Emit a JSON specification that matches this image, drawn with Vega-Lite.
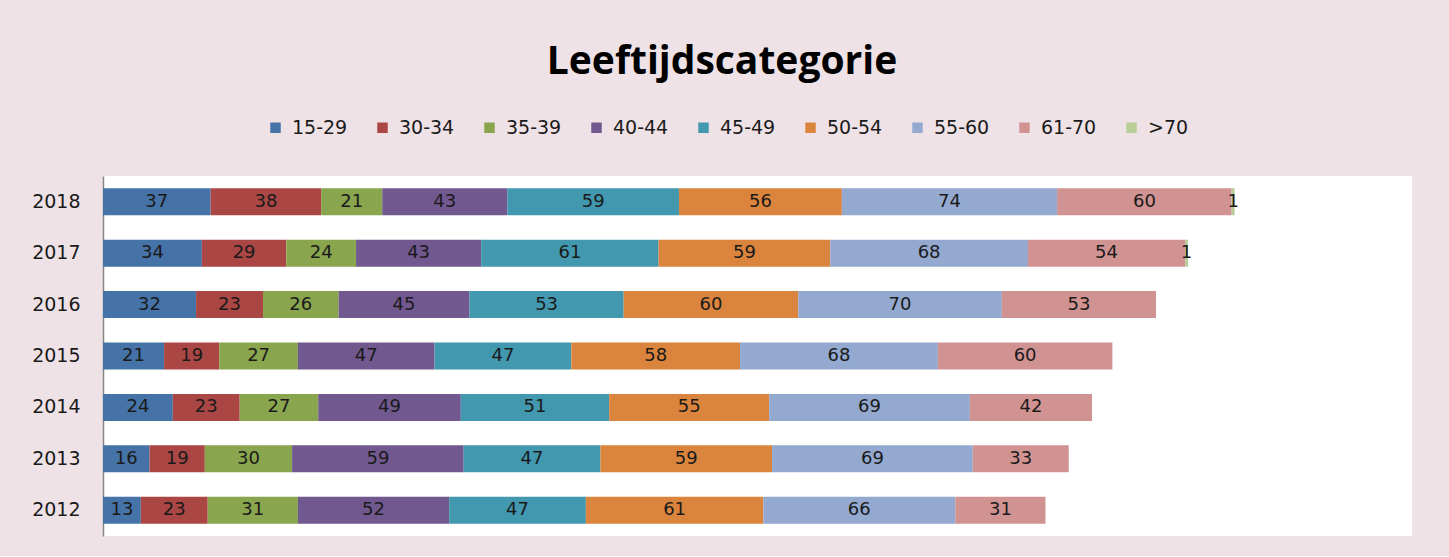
{
  "$schema": "https://vega.github.io/schema/vega-lite/v6.json",
  "width": 1309,
  "height": 360,
  "padding": {"left": 8, "top": 43, "right": 37, "bottom": 20},
  "background": "#EFE2E6",
  "title": {
    "text": "Leeftijdscategorie",
    "font": "Open Sans",
    "fontSize": 39,
    "fontWeight": "bold",
    "color": "#000000",
    "anchor": "middle",
    "frame": "bounds",
    "offset": 36,
    "dx": 12
  },
  "config": {
    "view": {"fill": "#FFFFFF", "stroke": null},
    "font": "DejaVu Sans"
  },
  "data": {
    "values": [
      {"year": "2018", "cat": "15-29", "idx": 1, "n": 37},
      {"year": "2018", "cat": "30-34", "idx": 2, "n": 38},
      {"year": "2018", "cat": "35-39", "idx": 3, "n": 21},
      {"year": "2018", "cat": "40-44", "idx": 4, "n": 43},
      {"year": "2018", "cat": "45-49", "idx": 5, "n": 59},
      {"year": "2018", "cat": "50-54", "idx": 6, "n": 56},
      {"year": "2018", "cat": "55-60", "idx": 7, "n": 74},
      {"year": "2018", "cat": "61-70", "idx": 8, "n": 60},
      {"year": "2018", "cat": ">70", "idx": 9, "n": 1},
      {"year": "2017", "cat": "15-29", "idx": 1, "n": 34},
      {"year": "2017", "cat": "30-34", "idx": 2, "n": 29},
      {"year": "2017", "cat": "35-39", "idx": 3, "n": 24},
      {"year": "2017", "cat": "40-44", "idx": 4, "n": 43},
      {"year": "2017", "cat": "45-49", "idx": 5, "n": 61},
      {"year": "2017", "cat": "50-54", "idx": 6, "n": 59},
      {"year": "2017", "cat": "55-60", "idx": 7, "n": 68},
      {"year": "2017", "cat": "61-70", "idx": 8, "n": 54},
      {"year": "2017", "cat": ">70", "idx": 9, "n": 1},
      {"year": "2016", "cat": "15-29", "idx": 1, "n": 32},
      {"year": "2016", "cat": "30-34", "idx": 2, "n": 23},
      {"year": "2016", "cat": "35-39", "idx": 3, "n": 26},
      {"year": "2016", "cat": "40-44", "idx": 4, "n": 45},
      {"year": "2016", "cat": "45-49", "idx": 5, "n": 53},
      {"year": "2016", "cat": "50-54", "idx": 6, "n": 60},
      {"year": "2016", "cat": "55-60", "idx": 7, "n": 70},
      {"year": "2016", "cat": "61-70", "idx": 8, "n": 53},
      {"year": "2015", "cat": "15-29", "idx": 1, "n": 21},
      {"year": "2015", "cat": "30-34", "idx": 2, "n": 19},
      {"year": "2015", "cat": "35-39", "idx": 3, "n": 27},
      {"year": "2015", "cat": "40-44", "idx": 4, "n": 47},
      {"year": "2015", "cat": "45-49", "idx": 5, "n": 47},
      {"year": "2015", "cat": "50-54", "idx": 6, "n": 58},
      {"year": "2015", "cat": "55-60", "idx": 7, "n": 68},
      {"year": "2015", "cat": "61-70", "idx": 8, "n": 60},
      {"year": "2014", "cat": "15-29", "idx": 1, "n": 24},
      {"year": "2014", "cat": "30-34", "idx": 2, "n": 23},
      {"year": "2014", "cat": "35-39", "idx": 3, "n": 27},
      {"year": "2014", "cat": "40-44", "idx": 4, "n": 49},
      {"year": "2014", "cat": "45-49", "idx": 5, "n": 51},
      {"year": "2014", "cat": "50-54", "idx": 6, "n": 55},
      {"year": "2014", "cat": "55-60", "idx": 7, "n": 69},
      {"year": "2014", "cat": "61-70", "idx": 8, "n": 42},
      {"year": "2013", "cat": "15-29", "idx": 1, "n": 16},
      {"year": "2013", "cat": "30-34", "idx": 2, "n": 19},
      {"year": "2013", "cat": "35-39", "idx": 3, "n": 30},
      {"year": "2013", "cat": "40-44", "idx": 4, "n": 59},
      {"year": "2013", "cat": "45-49", "idx": 5, "n": 47},
      {"year": "2013", "cat": "50-54", "idx": 6, "n": 59},
      {"year": "2013", "cat": "55-60", "idx": 7, "n": 69},
      {"year": "2013", "cat": "61-70", "idx": 8, "n": 33},
      {"year": "2012", "cat": "15-29", "idx": 1, "n": 13},
      {"year": "2012", "cat": "30-34", "idx": 2, "n": 23},
      {"year": "2012", "cat": "35-39", "idx": 3, "n": 31},
      {"year": "2012", "cat": "40-44", "idx": 4, "n": 52},
      {"year": "2012", "cat": "45-49", "idx": 5, "n": 47},
      {"year": "2012", "cat": "50-54", "idx": 6, "n": 61},
      {"year": "2012", "cat": "55-60", "idx": 7, "n": 66},
      {"year": "2012", "cat": "61-70", "idx": 8, "n": 31}
    ]
  },
  "transform": [
    {"stack": "n", "groupby": ["year"], "sort": [{"field": "idx", "order": "ascending"}], "as": ["x0", "x1"]},
    {"calculate": "(datum.x0 + datum.x1) / 2", "as": "mid"}
  ],
  "encoding": {
    "y": {
      "field": "year",
      "type": "nominal",
      "sort": "descending",
      "scale": {"paddingInner": 0.475, "paddingOuter": 0.2375},
      "axis": {
        "title": null,
        "ticks": false,
        "labelPadding": 23,
        "minExtent": 95,
        "maxExtent": 95,
        "labelFontSize": 19,
        "labelColor": "#1a1a1a",
        "labelFont": "DejaVu Sans",
        "domainColor": "#868686",
        "domainWidth": 1.5
      }
    }
  },
  "layer": [
    {
      "mark": {"type": "bar"},
      "encoding": {
        "x": {"field": "x0", "type": "quantitative", "scale": {"domain": [0, 450], "nice": false}, "axis": null},
        "x2": {"field": "x1"},
        "color": {
          "field": "cat",
          "type": "nominal",
          "scale": {
            "domain": ["15-29", "30-34", "35-39", "40-44", "45-49", "50-54", "55-60", "61-70", ">70"],
            "range": ["#4572A7", "#AA4643", "#89A54E", "#71588F", "#4198AF", "#DB843D", "#93A9CF", "#D19392", "#B9CD96"]
          },
          "legend": {
            "title": null,
            "orient": "none",
            "legendX": 163,
            "legendY": -58,
            "direction": "horizontal",
            "columns": 9,
            "symbolType": "square",
            "symbolSize": 110,
            "symbolStrokeWidth": 0,
            "labelFontSize": 19,
            "labelFont": "DejaVu Sans",
            "labelColor": "#1a1a1a",
            "labelOffset": 7,
            "columnPadding": 25,
            "padding": 0
          }
        }
      }
    },
    {
      "mark": {"type": "text", "fontSize": 18, "font": "DejaVu Sans", "color": "#1a1a1a", "baseline": "middle", "align": "center"},
      "encoding": {
        "x": {"field": "mid", "type": "quantitative"},
        "text": {"field": "n", "type": "quantitative"}
      }
    }
  ]
}
